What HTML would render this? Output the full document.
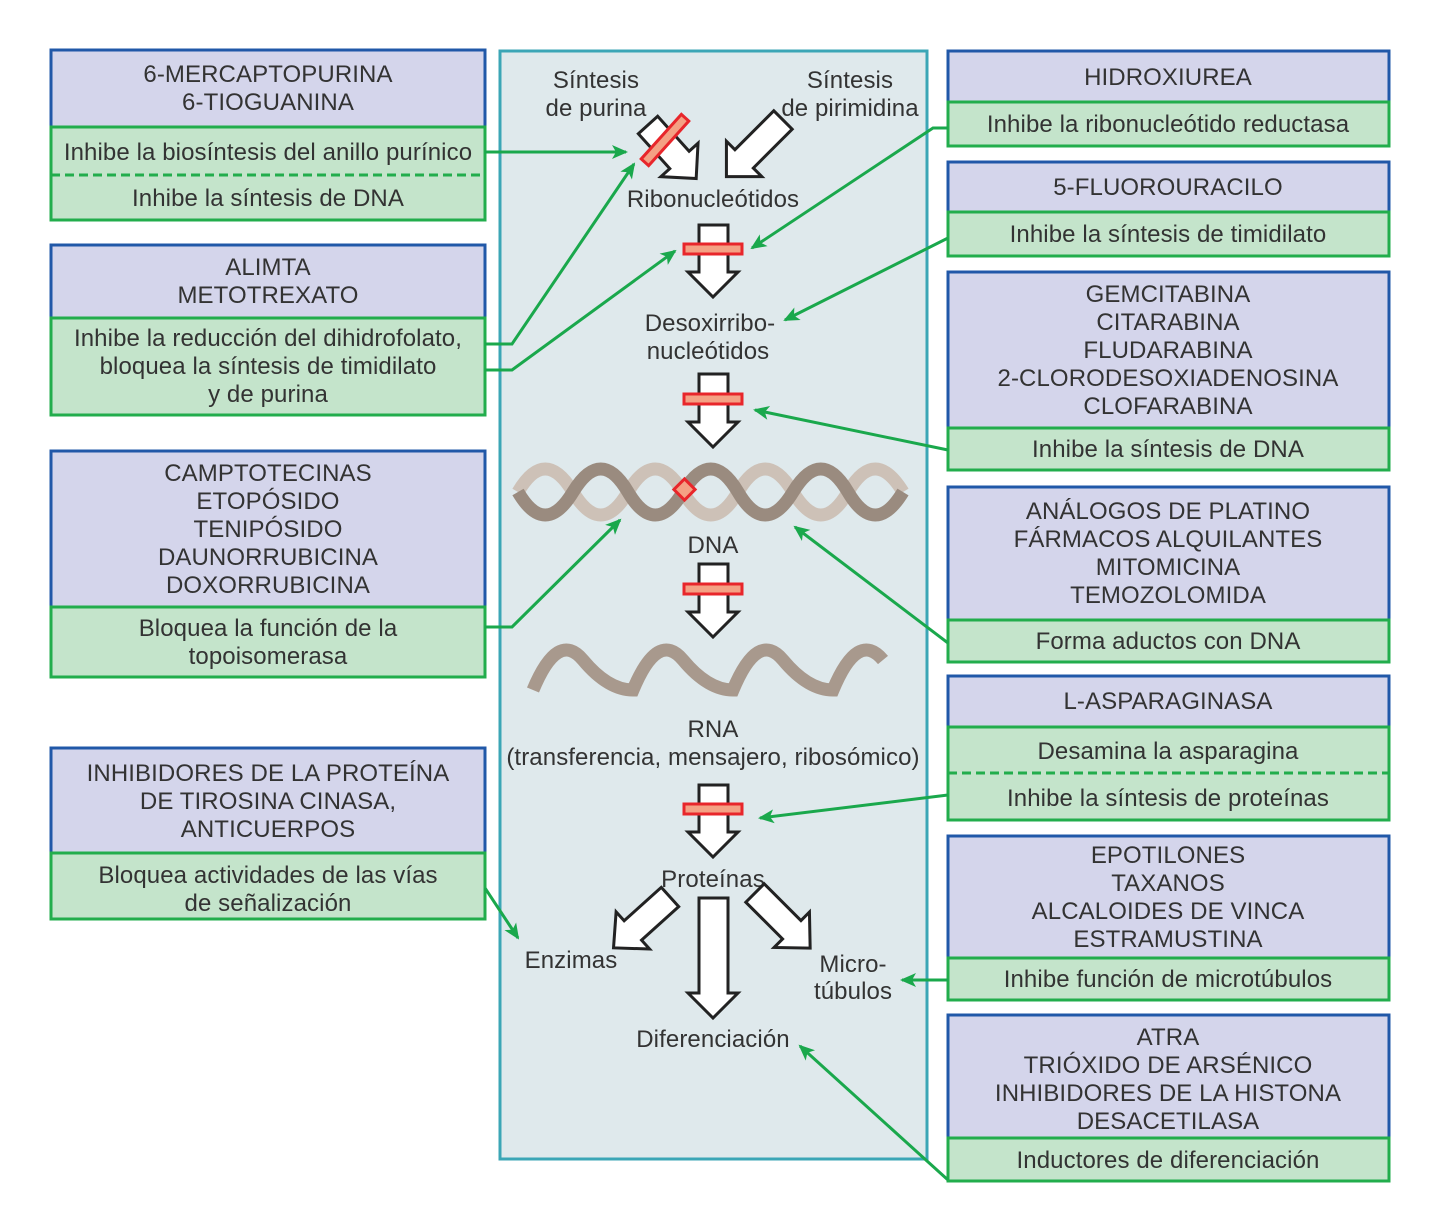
<!DOCTYPE html>
<html><head><meta charset="utf-8"><style>
html,body{margin:0;padding:0;background:#fff}
svg{display:block}
text{font-family:"Liberation Sans",Arial,sans-serif;font-size:24px;fill:#333;letter-spacing:0.1px}
.c{text-anchor:middle}
.bl{fill:#d4d5eb;stroke:#2158a8;stroke-width:3}
.gr{fill:#c4e4cb;stroke:#22ad4c;stroke-width:3}
.ln{fill:none;stroke:#1aa84c;stroke-width:3}
.ba{fill:#fff;stroke:#222;stroke-width:3;stroke-linejoin:miter}
.rb{fill:#f4a184;stroke:#e8262b;stroke-width:3}
</style></head><body>
<svg width="1442" height="1209" viewBox="0 0 1442 1209" xmlns="http://www.w3.org/2000/svg">
<defs>
<marker id="ah2" markerWidth="16" markerHeight="16" refX="14" refY="8" orient="auto" markerUnits="userSpaceOnUse" viewBox="0 0 16 16">
<path d="M0,1 L16,8 L0,15 L4,8 Z" fill="#1aa84c"/></marker>
</defs>

<rect x="500" y="51" width="427" height="1108" fill="#dfe9ec" stroke="#3ba6b6" stroke-width="3"/>

<!-- LEFT BOXES -->
<rect class="bl" x="51" y="50" width="434" height="77"/>
<rect class="gr" x="51" y="127" width="434" height="93"/>
<line x1="51" y1="175" x2="485" y2="175" stroke="#22ad4c" stroke-width="3" stroke-dasharray="9,5"/>
<text class="c" x="268" y="82">6-MERCAPTOPURINA</text>
<text class="c" x="268" y="110">6-TIOGUANINA</text>
<text class="c" x="268" y="160">Inhibe la biosíntesis del anillo purínico</text>
<text class="c" x="268" y="206">Inhibe la síntesis de DNA</text>

<rect class="bl" x="51" y="245" width="434" height="73"/>
<rect class="gr" x="51" y="318" width="434" height="97"/>
<text class="c" x="268" y="275">ALIMTA</text>
<text class="c" x="268" y="303">METOTREXATO</text>
<text class="c" x="268" y="346">Inhibe la reducción del dihidrofolato,</text>
<text class="c" x="268" y="374">bloquea la síntesis de timidilato</text>
<text class="c" x="268" y="402">y de purina</text>

<rect class="bl" x="51" y="451" width="434" height="156"/>
<rect class="gr" x="51" y="607" width="434" height="70"/>
<text class="c" x="268" y="481">CAMPTOTECINAS</text>
<text class="c" x="268" y="509">ETOPÓSIDO</text>
<text class="c" x="268" y="537">TENIPÓSIDO</text>
<text class="c" x="268" y="565">DAUNORRUBICINA</text>
<text class="c" x="268" y="593">DOXORRUBICINA</text>
<text class="c" x="268" y="636">Bloquea la función de la</text>
<text class="c" x="268" y="664">topoisomerasa</text>

<rect class="bl" x="51" y="748" width="434" height="105"/>
<rect class="gr" x="51" y="853" width="434" height="66"/>
<text class="c" x="268" y="781">INHIBIDORES DE LA PROTEÍNA</text>
<text class="c" x="268" y="809">DE TIROSINA CINASA,</text>
<text class="c" x="268" y="837">ANTICUERPOS</text>
<text class="c" x="268" y="883">Bloquea actividades de las vías</text>
<text class="c" x="268" y="911">de señalización</text>

<!-- RIGHT BOXES -->
<rect class="bl" x="948" y="51" width="441" height="51"/>
<rect class="gr" x="948" y="102" width="441" height="44"/>
<text class="c" x="1168" y="85">HIDROXIUREA</text>
<text class="c" x="1168" y="132">Inhibe la ribonucleótido reductasa</text>

<rect class="bl" x="948" y="162" width="441" height="50"/>
<rect class="gr" x="948" y="212" width="441" height="44"/>
<text class="c" x="1168" y="195">5-FLUOROURACILO</text>
<text class="c" x="1168" y="242">Inhibe la síntesis de timidilato</text>

<rect class="bl" x="948" y="272" width="441" height="156"/>
<rect class="gr" x="948" y="428" width="441" height="42"/>
<text class="c" x="1168" y="302">GEMCITABINA</text>
<text class="c" x="1168" y="330">CITARABINA</text>
<text class="c" x="1168" y="358">FLUDARABINA</text>
<text class="c" x="1168" y="386">2-CLORODESOXIADENOSINA</text>
<text class="c" x="1168" y="414">CLOFARABINA</text>
<text class="c" x="1168" y="457">Inhibe la síntesis de DNA</text>

<rect class="bl" x="948" y="487" width="441" height="133"/>
<rect class="gr" x="948" y="620" width="441" height="42"/>
<text class="c" x="1168" y="519">ANÁLOGOS DE PLATINO</text>
<text class="c" x="1168" y="547">FÁRMACOS ALQUILANTES</text>
<text class="c" x="1168" y="575">MITOMICINA</text>
<text class="c" x="1168" y="603">TEMOZOLOMIDA</text>
<text class="c" x="1168" y="649">Forma aductos con DNA</text>

<rect class="bl" x="948" y="676" width="441" height="51"/>
<rect class="gr" x="948" y="727" width="441" height="93"/>
<line x1="948" y1="773" x2="1389" y2="773" stroke="#22ad4c" stroke-width="3" stroke-dasharray="9,5"/>
<text class="c" x="1168" y="709">L-ASPARAGINASA</text>
<text class="c" x="1168" y="759">Desamina la asparagina</text>
<text class="c" x="1168" y="806">Inhibe la síntesis de proteínas</text>

<rect class="bl" x="948" y="836" width="441" height="122"/>
<rect class="gr" x="948" y="958" width="441" height="42"/>
<text class="c" x="1168" y="863">EPOTILONES</text>
<text class="c" x="1168" y="891">TAXANOS</text>
<text class="c" x="1168" y="919">ALCALOIDES DE VINCA</text>
<text class="c" x="1168" y="947">ESTRAMUSTINA</text>
<text class="c" x="1168" y="987">Inhibe función de microtúbulos</text>

<rect class="bl" x="948" y="1015" width="441" height="123"/>
<rect class="gr" x="948" y="1138" width="441" height="43"/>
<text class="c" x="1168" y="1045">ATRA</text>
<text class="c" x="1168" y="1073">TRIÓXIDO DE ARSÉNICO</text>
<text class="c" x="1168" y="1101">INHIBIDORES DE LA HISTONA</text>
<text class="c" x="1168" y="1129">DESACETILASA</text>
<text class="c" x="1168" y="1168">Inductores de diferenciación</text>

<!-- CENTER TEXT -->
<text class="c" x="596" y="88">Síntesis</text>
<text class="c" x="596" y="116">de purina</text>
<text class="c" x="850" y="88">Síntesis</text>
<text class="c" x="850" y="116">de pirimidina</text>
<text class="c" x="713" y="207">Ribonucleótidos</text>
<text class="c" x="710" y="331">Desoxirribo-</text>
<text class="c" x="708" y="359">nucleótidos</text>
<text class="c" x="713" y="553">DNA</text>
<text class="c" x="713" y="737">RNA</text>
<text class="c" x="713" y="765">(transferencia, mensajero, ribosómico)</text>
<text class="c" x="713" y="887">Proteínas</text>
<text class="c" x="571" y="968">Enzimas</text>
<text class="c" x="853" y="972">Micro-</text>
<text class="c" x="853" y="999">túbulos</text>
<text class="c" x="713" y="1047">Diferenciación</text>

<!-- block arrows diagonal -->
<polygon class="ba" transform="translate(648,125) rotate(48)" points="0,-13 47,-13 47,-25 72,0 47,25 47,13 0,13"/>
<rect class="rb" x="-30" y="-5" width="60" height="10" transform="translate(665,140) rotate(-48)"/>
<polygon class="ba" transform="translate(783,120) rotate(135)" points="0,-13 55,-13 55,-25 80,0 55,25 55,13 0,13"/>
<polygon class="ba" transform="translate(670,897) rotate(138)" points="0,-13 50,-13 50,-25 76,0 50,25 50,13 0,13"/>
<polygon class="ba" transform="translate(755,893) rotate(45)" points="0,-13 52,-13 52,-25 78,0 52,25 52,13 0,13"/>

<!-- vertical arrows -->
<polygon class="ba" points="699,225 728,225 728,272 738,272 713,297 688,272 699,272"/>
<rect class="rb" x="684" y="244" width="58" height="10"/>
<polygon class="ba" points="699,374 728,374 728,422 738,422 713,447 688,422 699,422"/>
<rect class="rb" x="684" y="394" width="58" height="10"/>
<polygon class="ba" points="699,564 728,564 728,612 738,612 713,637 688,612 699,612"/>
<rect class="rb" x="684" y="584" width="58" height="10"/>
<polygon class="ba" points="699,785 728,785 728,832 738,832 713,857 688,832 699,832"/>
<rect class="rb" x="684" y="804" width="58" height="10"/>
<polygon class="ba" points="699,898 728,898 728,993 738,993 713,1018 688,993 699,993"/>

<!-- DNA helix -->
<path d="M518,492 q27,-46 55,0 t55,0 t55,0 t55,0 t55,0 t55,0 t55,0" fill="none" stroke="#cdc1b7" stroke-width="13"/>
<path d="M518,492 q27,46 55,0 t55,0 t55,0 t55,0 t55,0 t55,0 t55,0" fill="none" stroke="#9a8b7f" stroke-width="13"/>
<rect x="677" y="482" width="15" height="15" fill="#f4a184" stroke="#e8262b" stroke-width="3" transform="rotate(45 684.5 489.5)"/>
<!-- RNA -->
<path d="M533,690 q25,-60 50,-30 q25,30 50,30 q25,-60 50,-30 q25,30 50,30 q25,-60 50,-30 q25,30 50,30 q25,-60 50,-30" fill="none" stroke="#a8998d" stroke-width="13"/>

<!-- green connector arrows -->
<polyline class="ln" points="485,152 626,152" marker-end="url(#ah2)"/>
<polyline class="ln" points="485,344 512,344 634,164" marker-end="url(#ah2)"/>
<polyline class="ln" points="485,370 512,370 675,251" marker-end="url(#ah2)"/>
<polyline class="ln" points="485,627 512,627 620,520" marker-end="url(#ah2)"/>
<polyline class="ln" points="485,888 518,938" marker-end="url(#ah2)"/>
<polyline class="ln" points="948,128 933,128 752,248" marker-end="url(#ah2)"/>
<polyline class="ln" points="948,238 785,320" marker-end="url(#ah2)"/>
<polyline class="ln" points="948,450 755,410" marker-end="url(#ah2)"/>
<polyline class="ln" points="948,643 795,527" marker-end="url(#ah2)"/>
<polyline class="ln" points="948,795 760,818" marker-end="url(#ah2)"/>
<polyline class="ln" points="948,980 902,980" marker-end="url(#ah2)"/>
<polyline class="ln" points="948,1180 800,1046" marker-end="url(#ah2)"/>
</svg>
</body></html>
